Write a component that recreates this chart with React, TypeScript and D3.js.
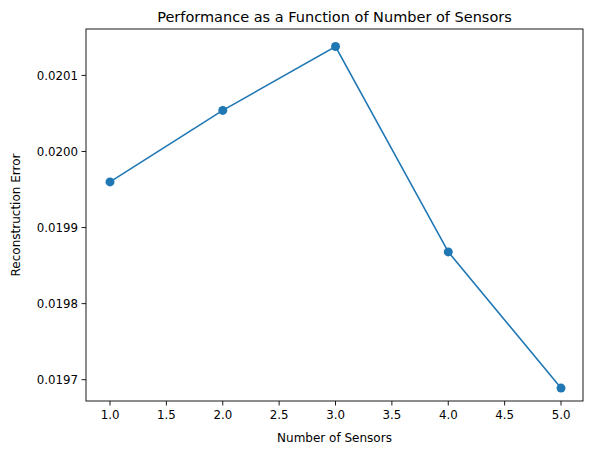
import * as d3 from "d3";

const sensors = [1, 2, 3, 4, 5];
const errors = [0.019960, 0.020054, 0.020138, 0.019868, 0.019689];
const xTicks = [1.0, 1.5, 2.0, 2.5, 3.0, 3.5, 4.0, 4.5, 5.0];
const yTicks = [0.0197, 0.0198, 0.0199, 0.02, 0.0201];

const W = 593;
const H = 455;
const M = { top: 29, right: 10, bottom: 54, left: 86 };
const BLUE = "#1f77b4";
const FONT = "DejaVu Sans";

export default function App() {
  const iw = W - M.left - M.right;
  const ih = H - M.top - M.bottom;
  const x = d3.scaleLinear().domain([0.787, 5.195]).range([0, iw]);
  const y = d3.scaleLinear().domain([0.019672, 0.020161]).range([ih, 0]);
  const line = d3
    .line<number>()
    .x((_, i) => x(sensors[i]))
    .y((d) => y(d));

  return (
    <svg width={W} height={H} style={{ position: "absolute", left: 0, top: 0 }} fontFamily={FONT}>
      <rect width={W} height={H} fill="#fff" />
      <text x={M.left + iw / 2} y={22} textAnchor="middle" fontSize={14.5}>
        Performance as a Function of Number of Sensors
      </text>
      <g transform={`translate(${M.left},${M.top})`}>
        <path d={line(errors) ?? ""} fill="none" stroke={BLUE} strokeWidth={1.6} />
        {errors.map((d, i) => (
          <circle key={i} cx={x(sensors[i])} cy={y(d)} r={4.5} fill={BLUE} />
        ))}
        <rect width={iw} height={ih} fill="none" stroke="#000" strokeWidth={0.9} />
        {xTicks.map((t) => (
          <g key={t} transform={`translate(${x(t)},${ih})`}>
            <line y2={4.5} stroke="#000" strokeWidth={0.9} />
            <text y={18} textAnchor="middle" fontSize={11.8}>
              {t.toFixed(1)}
            </text>
          </g>
        ))}
        {yTicks.map((t) => (
          <g key={t} transform={`translate(0,${y(t)})`}>
            <line x2={-4.5} stroke="#000" strokeWidth={0.9} />
            <text x={-8} dy="0.35em" textAnchor="end" fontSize={11.8}>
              {t.toFixed(4)}
            </text>
          </g>
        ))}
        <text x={iw / 2} y={ih + 41} textAnchor="middle" fontSize={12}>
          Number of Sensors
        </text>
        <text transform={`translate(${-66},${ih / 2}) rotate(-90)`} textAnchor="middle" fontSize={12}>
          Reconstruction Error
        </text>
      </g>
    </svg>
  );
}
